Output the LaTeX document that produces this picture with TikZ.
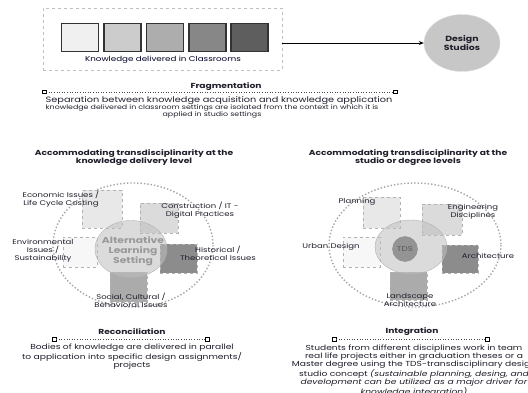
\documentclass[tikz,border=0pt]{standalone}
\usepackage{fontspec}
\setmainfont{Poppins}[FakeStretch=1.25]
\usetikzlibrary{arrows.meta,decorations.pathmorphing,shapes.geometric}
\definecolor{txt}{HTML}{1E1E2A}
\begin{document}
\begin{tikzpicture}[x=1pt,y=-1pt,
  every node/.style={text=txt, inner sep=0pt},
  kbox/.style={draw=black!80, line width=1.3pt, minimum width=37pt, minimum height=28pt},
  wsq/.style={draw=black!30, dashed, line width=0.5pt, anchor=north west},
  endsq/.style={draw=black, fill=white, minimum size=3.6pt, line width=0.6pt},
  dline/.style={dotted, line width=0.6pt, black!70},
  ttl/.style={font=\fontsize{7.3}{8.6}\selectfont\bfseries, align=center},
  lbl/.style={font=\fontsize{6.8}{7.8}\selectfont, align=center},
  body/.style={font=\fontsize{7.3}{8.3}\selectfont, align=center},
]
\useasboundingbox (0,0) rectangle (528,393);
\fill[white] (0,0) rectangle (528,393);

% ---------- top ----------
\node[draw=black!25, dashed, line width=0.4pt, minimum width=239pt, minimum height=62pt, anchor=north west] (classbox) at (43,8) {};
\node[kbox, fill=black!6] (k1) at (80,37.5) {};
\node[kbox, fill=black!20] (k2) at (122.5,37.5) {};
\node[kbox, fill=black!32] (k3) at (165,37.5) {};
\node[kbox, fill=black!47] (k4) at (207.5,37.5) {};
\node[kbox, fill=black!63] (k5) at (249.5,37.5) {};
\node[font=\fontsize{7}{8}\selectfont, text=black!75!blue!60!black] (kt) at (163,60) {Knowledge delivered in Classrooms};
\node[ellipse, fill=black!22, draw=black!12, minimum width=76pt, minimum height=57pt, font=\fontsize{7.5}{8.8}\selectfont\bfseries, align=center] (ds) at (462,43) {Design\\Studios};
\draw[-{Stealth[length=5pt,width=4pt]}, line width=0.8pt, black] (classbox.east |- ds.west) -- (ds.west);

% ---------- fragmentation ----------
\node[ttl] (frt) at (226,87) {Fragmentation};
\node[endsq] (fl) at (44,92) {};
\node[endsq] (fr) at (395,92) {};
\draw[dline] (fl) -- (fr);
\node[font=\fontsize{7.8}{8.6}\selectfont] (fr1) at (219,100.5) {Separation between knowledge acquisition and knowledge application};
\node[font=\fontsize{6.3}{7.2}\selectfont, align=center] (fr2) at (212,111.8) {knowledge delivered in classroom settings are isolated from the context in which it is\\applied in studio settings};

% ---------- left diagram ----------
\node[ttl] (lt) at (134,157.5) {Accommodating transdisciplinarity at the\\knowledge delivery level};
\draw[dotted, line width=1.4pt, black!35] (133,245) ellipse [x radius=80, y radius=62];
\node[wsq, fill=black!9, minimum width=40pt, minimum height=38pt] (ls1) at (82,190) {};
\node[wsq, fill=black!14, minimum width=38pt, minimum height=30pt] (ls2) at (140,203) {};
\node[wsq, fill=black!3, minimum width=34pt, minimum height=30pt] (ls3) at (63,237) {};
\node[wsq, fill=black!45, minimum width=37pt, minimum height=29pt] (ls4) at (160,244) {};
\node[wsq, fill=black!33, minimum width=37pt, minimum height=30pt] (ls5) at (110,272) {};
\node[ellipse, fill=black!25, fill opacity=0.55, draw=black!30, minimum width=72pt, minimum height=57pt] (alc) at (131,249) {};
\node[font=\fontsize{8.6}{10}\selectfont\bfseries, align=center, text=black!40] (alt) at (133,251) {Alternative\\Learning\\Setting};
\node[lbl] (l1) at (61,199.5) {Economic Issues /\\Life Cycle Costing};
\node[lbl] (l2) at (200,210.5) {Construction / IT -\\Digital Practices};
\node[lbl] (l3) at (43,251) {Environmental\\Issues /\\Sustainability};
\node[lbl] (l4) at (218,253) {Historical /\\Theoretical Issues};
\node[lbl] (l5) at (131,300.5) {Social, Cultural /\\Behavioral Issues};

% ---------- right diagram ----------
\node[ttl] (rt) at (408,157.5) {Accommodating transdisciplinarity at the\\studio or degree levels};
\draw[dotted, line width=1.4pt, black!35] (415,245) ellipse [x radius=86, y radius=62];
\node[wsq, fill=black!9, minimum width=37pt, minimum height=31pt] (rs1) at (363,197) {};
\node[wsq, fill=black!14, minimum width=40pt, minimum height=31pt] (rs2) at (422,204) {};
\node[wsq, fill=black!3, minimum width=37pt, minimum height=30pt] (rs3) at (343,237) {};
\node[wsq, fill=black!45, minimum width=36pt, minimum height=28pt] (rs4) at (442,245) {};
\node[wsq, fill=black!33, minimum width=37pt, minimum height=28pt] (rs5) at (390,272) {};
\node[ellipse, fill=black!25, fill opacity=0.55, draw=black!30, minimum width=72pt, minimum height=54pt] (mc) at (411,247) {};
\node[circle, fill=black!42, draw=black!45, minimum size=25pt, font=\fontsize{7}{8}\selectfont, text=black!65] (tds) at (405,249) {TDS};
\node[lbl] (r1) at (357,202) {Planning};
\node[lbl] (r2) at (473,211.5) {Engineering\\Disciplines};
\node[lbl] (r3) at (331,247) {Urban Design};
\node[lbl] (r4) at (488,256) {Architecture};
\node[lbl] (r5) at (410,300) {Landscape\\Architecture};

% ---------- reconciliation ----------
\node[ttl] (rct) at (132,332) {Reconciliation};
\node[endsq] (rl) at (54,339) {};
\node[endsq] (rr) at (207,339) {};
\draw[dline] (rl) -- (rr);
\node[body] (rcb) at (132,356.5) {Bodies of knowledge are delivered in parallel\\to application into specific design assignments/\\projects};

% ---------- integration ----------
\node[ttl] (igt) at (412,332) {Integration};
\node[endsq] (il) at (334,339) {};
\node[endsq] (ir) at (487,339) {};
\draw[dline] (il) -- (ir);
\node[body, anchor=north] (igb) at (414,344.5) {Students from different disciplines work in team\\real life projects either in graduation theses or a\\Master degree using the TDS-transdisciplinary design\\studio concept \textit{(sustainable planning, desing, and}\\\textit{development can be utilized as a major driver for}\\\textit{knowledge integration)}};
\end{tikzpicture}
\end{document}
